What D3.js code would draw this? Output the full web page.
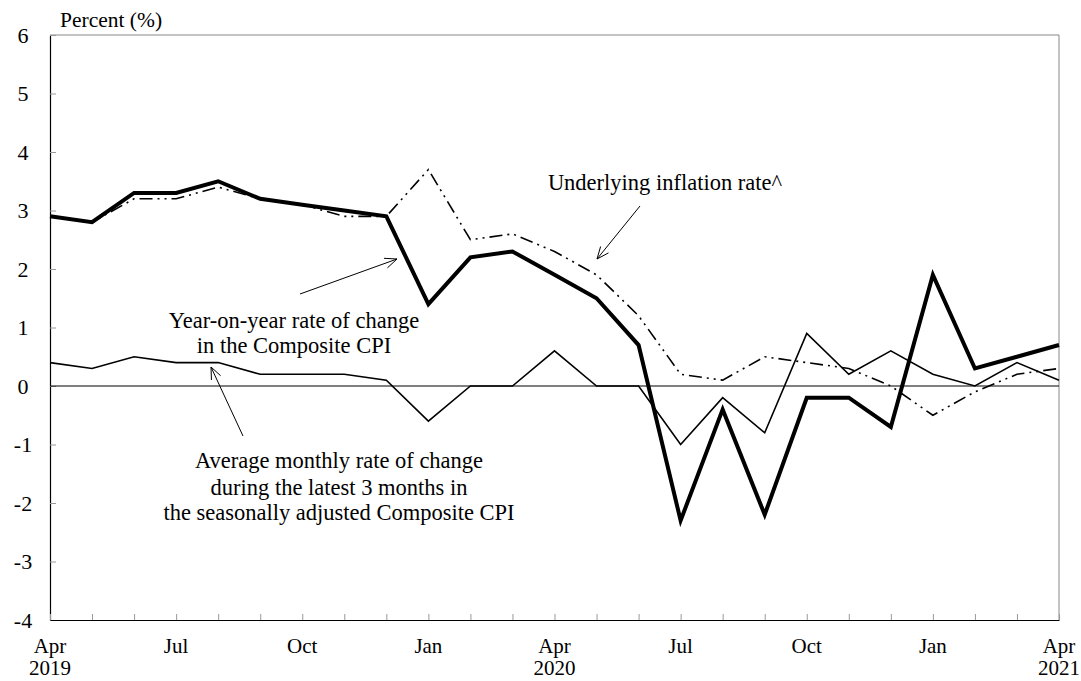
<!DOCTYPE html>
<html><head><meta charset="utf-8">
<script src="https://cdn.jsdelivr.net/npm/d3@7"></script>
<style>body{margin:0;background:#fff}text{font-family:"Liberation Serif","Times New Roman",serif;fill:#000}</style>
</head><body><svg id="c" width="1081" height="681"></svg>
<script>
const months = ["Apr 2019","May 2019","Jun 2019","Jul 2019","Aug 2019","Sep 2019","Oct 2019","Nov 2019","Dec 2019","Jan 2020","Feb 2020","Mar 2020","Apr 2020","May 2020","Jun 2020","Jul 2020","Aug 2020","Sep 2020","Oct 2020","Nov 2020","Dec 2020","Jan 2021","Feb 2021","Mar 2021","Apr 2021"];
const compositeYoY = [2.9,2.8,3.3,3.3,3.5,3.2,3.1,3.0,2.9,1.4,2.2,2.3,1.9,1.5,0.7,-2.3,-0.4,-2.2,-0.2,-0.2,-0.7,1.9,0.3,0.5,0.7];
const underlying = [2.9,2.8,3.2,3.2,3.4,3.2,3.1,2.9,2.9,3.7,2.5,2.6,2.3,1.9,1.2,0.2,0.1,0.5,0.4,0.3,0.0,-0.5,-0.1,0.2,0.3];
const monthlyAvg = [0.4,0.3,0.5,0.4,0.4,0.2,0.2,0.2,0.1,-0.6,0.0,0.0,0.6,0.0,0.0,-1.0,-0.2,-0.8,0.9,0.2,0.6,0.2,0.0,0.4,0.1];
const yTicks = [-4,-3,-2,-1,0,1,2,3,4,5,6];
const xLabelIdx = [0,3,6,9,12,15,18,21,24];
const xLabelTop = ["Apr","Jul","Oct","Jan","Apr","Jul","Oct","Jan","Apr"];
const xLabelBottom = ["2019","","","","2020","","","","2021"];

const svg = d3.select("#c");
const L=50,R=1059,T=35,B=620;
const x = d3.scaleLinear().domain([0,months.length-1]).range([L,R]);
const y = d3.scaleLinear().domain([-4,6]).range([B,T]);

// frame
svg.append("line").attr("x1",L).attr("x2",R).attr("y1",T).attr("y2",T).attr("stroke","#888").attr("stroke-width",1);
svg.append("line").attr("x1",R).attr("x2",R).attr("y1",T).attr("y2",B).attr("stroke","#888").attr("stroke-width",1);

// y axis
const ya = svg.append("g").attr("transform",`translate(${L},0)`)
  .call(d3.axisLeft(y).tickValues(yTicks).tickSize(0).tickPadding(0).tickFormat(d=>String(d)));
ya.select(".domain").attr("stroke","#000").attr("stroke-width",1.2);
ya.selectAll(".tick text").attr("x",-27).attr("text-anchor","middle").style("font-size","22px").style("font-family","Liberation Serif");
ya.selectAll(".tick").append("line").attr("x1",0).attr("x2",6).attr("stroke","#999");

// x axis
const xa = svg.append("g").attr("transform",`translate(0,${B})`)
  .call(d3.axisBottom(x).tickValues(d3.range(months.length)).tickSize(0).tickFormat(""));
xa.select(".domain").attr("stroke","#000").attr("stroke-width",1.2);
xa.selectAll(".tick").append("line").attr("y1",0).attr("y2",-6).attr("stroke","#999");
const xl = svg.append("g");
xLabelIdx.forEach((d,i)=>{
  xl.append("text").attr("x",x(d)).attr("y",653).attr("text-anchor","middle").style("font-size","21px").text(xLabelTop[i]);
  if(xLabelBottom[i]) xl.append("text").attr("x",x(d)).attr("y",675).attr("text-anchor","middle").style("font-size","21px").text(xLabelBottom[i]);
});

// zero line
svg.append("line").attr("x1",L).attr("x2",R).attr("y1",y(0)).attr("y2",y(0)).attr("stroke","#000").attr("stroke-width",1);

const line = d3.line().x((d,i)=>x(i)).y(d=>y(d));
svg.append("path").datum(monthlyAvg).attr("d",line).attr("fill","none").attr("stroke","#000").attr("stroke-width",1.6).attr("stroke-linejoin","miter");
svg.append("path").datum(underlying).attr("d",line).attr("fill","none").attr("stroke","#000").attr("stroke-width",1.6).attr("stroke-dasharray","13,5,2,5,2,5");
svg.append("path").datum(compositeYoY).attr("d",line).attr("fill","none").attr("stroke","#000").attr("stroke-width",4).attr("stroke-linejoin","miter");

// title
svg.append("text").attr("x",60).attr("y",27).style("font-size","21.5px").text("Percent (%)");

// annotations
function arrow(x1,y1,x2,y2){
  svg.append("line").attr("x1",x1).attr("y1",y1).attr("x2",x2).attr("y2",y2).attr("stroke","#000").attr("stroke-width",1);
  const a=Math.atan2(y2-y1,x2-x1), h=13, s=0.4;
  const p1=[x2-h*Math.cos(a-s),y2-h*Math.sin(a-s)], p2=[x2-h*Math.cos(a+s),y2-h*Math.sin(a+s)];
  svg.append("path").attr("d",`M${p1[0]},${p1[1]}L${x2},${y2}L${p2[0]},${p2[1]}`).attr("fill","none").attr("stroke","#000").attr("stroke-width",1);
}
const fs="22.5px";
svg.append("text").attr("x",665).attr("y",190).attr("text-anchor","middle").style("font-size",fs).text("Underlying inflation rate^");
arrow(640,206,597,259);
svg.append("text").attr("x",294).attr("y",328).attr("text-anchor","middle").style("font-size",fs).text("Year-on-year rate of change");
svg.append("text").attr("x",294).attr("y",353).attr("text-anchor","middle").style("font-size",fs).text("in the Composite CPI");
arrow(300,294,397,259);
svg.append("text").attr("x",339).attr("y",468).attr("text-anchor","middle").style("font-size",fs).text("Average monthly rate of change");
svg.append("text").attr("x",339).attr("y",495).attr("text-anchor","middle").style("font-size",fs).text("during the latest 3 months in");
svg.append("text").attr("x",339).attr("y",520).attr("text-anchor","middle").style("font-size",fs).text("the seasonally adjusted Composite CPI");
arrow(243,436,211,367);
</script></body></html>
